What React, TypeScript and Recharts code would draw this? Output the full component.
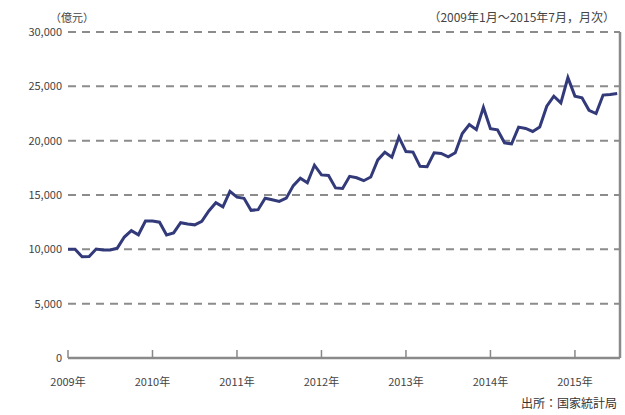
import React from 'react';
import { LineChart, Line, XAxis, YAxis, CartesianGrid, ReferenceLine } from 'recharts';

// 社会消費品小売総額（月次、億元）
const sales2009 = [10000, 10000, 9317, 9343, 10028, 9941, 9936, 10115, 11133, 11718, 11339, 12610];
const sales2010 = [12600, 12500, 11322, 11510, 12455, 12330, 12252, 12570, 13537, 14285, 13911, 15330];
const sales2011 = [14800, 14700, 13588, 13649, 14697, 14565, 14408, 14705, 15865, 16547, 16128, 17740];
const sales2012 = [16850, 16800, 15650, 15603, 16715, 16585, 16315, 16659, 18227, 18934, 18476, 20334];
const sales2013 = [19000, 18950, 17640, 17600, 18886, 18827, 18513, 18886, 20653, 21491, 21012, 23060];
const sales2014 = [21100, 21000, 19801, 19701, 21250, 21123, 20847, 21252, 23168, 24087, 23475, 25801];
const sales2015 = [24100, 23950, 22800, 22500, 24195, 24250, 24342];

const yearLabels = ['2009年', '2010年', '2011年', '2012年', '2013年', '2014年', '2015年'];
const yTicks = [0, 5000, 10000, 15000, 20000, 25000, 30000];

const allSales = [...sales2009, ...sales2010, ...sales2011, ...sales2012, ...sales2013, ...sales2014, ...sales2015];
const data = allSales.map((v, i) => ({ idx: i, sales: v }));
const xTicks = yearLabels.map((_, i) => i * 12);
const xMax = 78.4;

const font = '"Noto Sans CJK JP", "Noto Sans", sans-serif';

const YearTick = (props: any) => {
  const { x, y, payload } = props;
  const label = yearLabels[Math.round(payload.value / 12)];
  return (
    <g>
      <line x1={x} y1={y} x2={x} y2={y - 8} stroke="#888" strokeWidth={1.5} />
      <text x={x} y={y + 24} textAnchor="middle" dy="0.35em" fill="#444" fontSize={11} fontFamily={font}>
        {label}
      </text>
    </g>
  );
};

export default function App() {
  return (
    <div style={{ position: 'absolute', left: 0, top: 0, width: 625, height: 415, background: '#fff', fontFamily: font }}>
      <div style={{ position: 'absolute', left: 50, top: 9, fontSize: 11, color: '#444' }}>（億元）</div>
      <div style={{ position: 'absolute', right: 10, top: 8, fontSize: 12, color: '#444' }}>
        （2009年1月～2015年7月，月次）
      </div>
      <div style={{ position: 'absolute', right: 8, top: 394, fontSize: 12, color: '#333' }}>出所：国家統計局</div>
      <LineChart width={625} height={415} data={data} margin={{ top: 32, right: 5, left: 8, bottom: 27 }}>
        <CartesianGrid vertical={false} stroke="#8c8c8c" strokeWidth={2} strokeDasharray="8 6" />
        <XAxis
          dataKey="idx"
          type="number"
          domain={[0, xMax]}
          ticks={xTicks}
          tick={<YearTick />}
          tickLine={false}
          tickSize={0}
          tickMargin={0}
          height={30}
          axisLine={{ stroke: '#8a8a8a', strokeWidth: 2.5 }}
          allowDataOverflow
        />
        <YAxis
          domain={[0, 30000]}
          ticks={yTicks}
          width={60}
          axisLine={false}
          tickLine={false}
          tickSize={0}
          tickMargin={6}
          tickFormatter={(v: number) => v.toLocaleString('en-US')}
          tick={{ fill: '#444', fontSize: 11, fontFamily: font }}
        />
        <ReferenceLine x={xMax} stroke="#8a8a8a" strokeWidth={2.5} />
        <Line
          type="linear"
          dataKey="sales"
          stroke="#333a7a"
          strokeWidth={3}
          dot={false}
          isAnimationActive={false}
        />
      </LineChart>
    </div>
  );
}
